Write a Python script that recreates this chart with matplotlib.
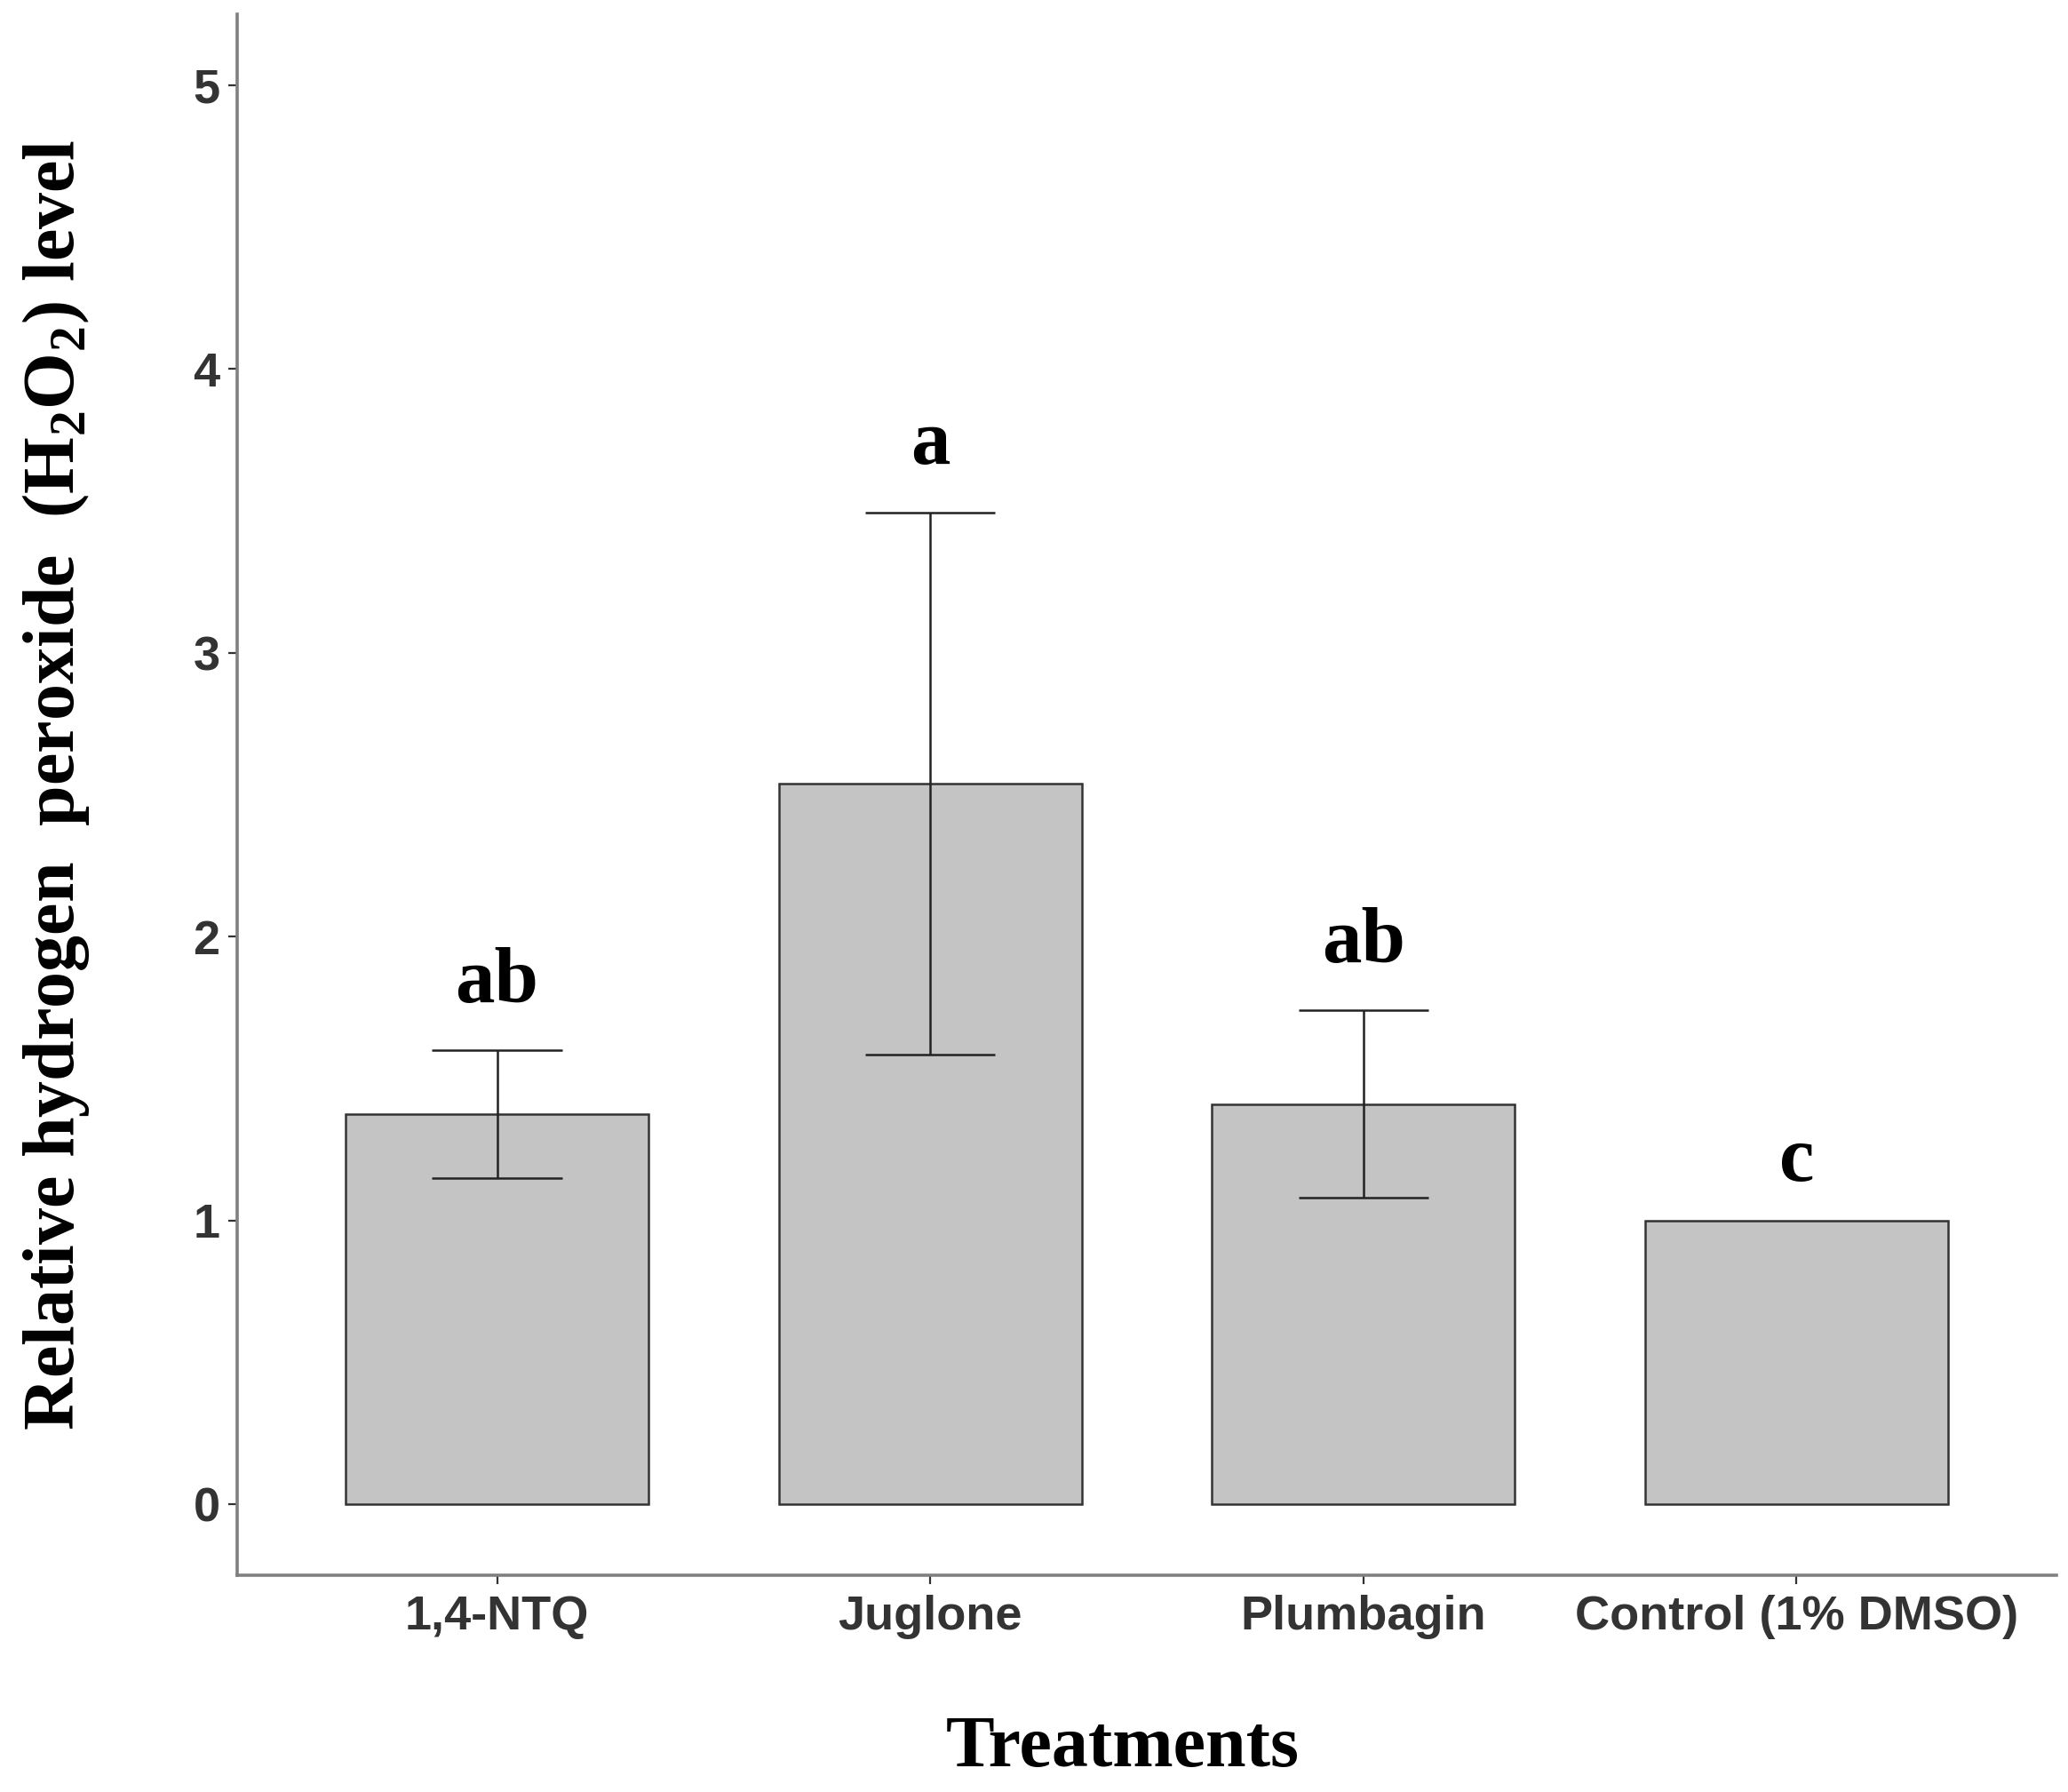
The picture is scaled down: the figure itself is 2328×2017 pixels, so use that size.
import matplotlib
matplotlib.use("Agg")
import matplotlib.pyplot as plt

# data
treatments = ["1,4-NTQ", "Juglone", "Plumbagin", "Control (1% DMSO)"]
means = [1.375, 2.54, 1.41, 1.0]
errors = [0.225, 0.955, 0.33, 0.0]
letters = ["ab", "a", "ab", "c"]
yticks = [0, 1, 2, 3, 4, 5]

plt.rcParams['mathtext.fontset'] = 'custom'
plt.rcParams['mathtext.bf'] = 'Liberation Serif:bold'
plt.rcParams['mathtext.rm'] = 'Liberation Serif:bold'

fig = plt.figure(figsize=(11.64, 10.085), dpi=200)
ax = fig.add_axes([0.1147, 0.1210, 0.8797, 0.8711])

x = list(range(1, len(treatments) + 1))
ax.bar(x, means, width=0.7, color='#c4c4c4', edgecolor='#333333',
       linewidth=0.9, zorder=2)

# error bars (mean +/- se) with caps 0.3 wide
for xi, m, e in zip(x, means, errors):
    if e <= 0:
        continue
    ax.vlines(xi, m - e, m + e, color='#222222', linewidth=0.9, zorder=3)
    ax.hlines([m - e, m + e], xi - 0.15, xi + 0.15, color='#222222',
              linewidth=0.9, zorder=3)

# significance letters
for xi, m, e, lab in zip(x, means, errors, letters):
    off = 0.17 if e > 0 else 0.14
    ax.text(xi, m + e + off, lab, ha='center', va='baseline',
            fontfamily='Liberation Serif', fontweight='bold', fontsize=32,
            color='black')

ax.set_xlim(0.4, 4.6)
ax.set_ylim(-0.25, 5.25)
ax.set_xticks(x)
ax.set_xticklabels(treatments)
ax.set_yticks(yticks)
ax.set_yticklabels([str(t) for t in yticks])

for lab in ax.get_xticklabels() + ax.get_yticklabels():
    lab.set_fontfamily('Liberation Sans')
    lab.set_fontweight('bold')
    lab.set_fontsize(19.5)
    lab.set_color('#333333')

ax.tick_params(axis='both', direction='out', length=3.5, width=0.8,
               color='#333333')
ax.tick_params(axis='x', pad=4.5)
ax.tick_params(axis='y', pad=3.5)

for side in ['top', 'right']:
    ax.spines[side].set_visible(False)
for side in ['left', 'bottom']:
    ax.spines[side].set_color('#808080')
    ax.spines[side].set_linewidth(1.3)

fig.text(1264 / 2328, 1 - 1988 / 2017, "Treatments", ha='center',
         va='baseline', fontfamily='Liberation Serif', fontweight='bold',
         fontsize=29.5)
fig.text(63 / 2328, 0.562,
         r"Relative hydrogen  peroxide  (H$_\mathbf{2}$O$_\mathbf{2}$) level",
         rotation=90, ha='center', va='center',
         fontfamily='Liberation Serif', fontweight='bold', fontsize=29.5)

fig.savefig("out.png", dpi=200, facecolor='white')
